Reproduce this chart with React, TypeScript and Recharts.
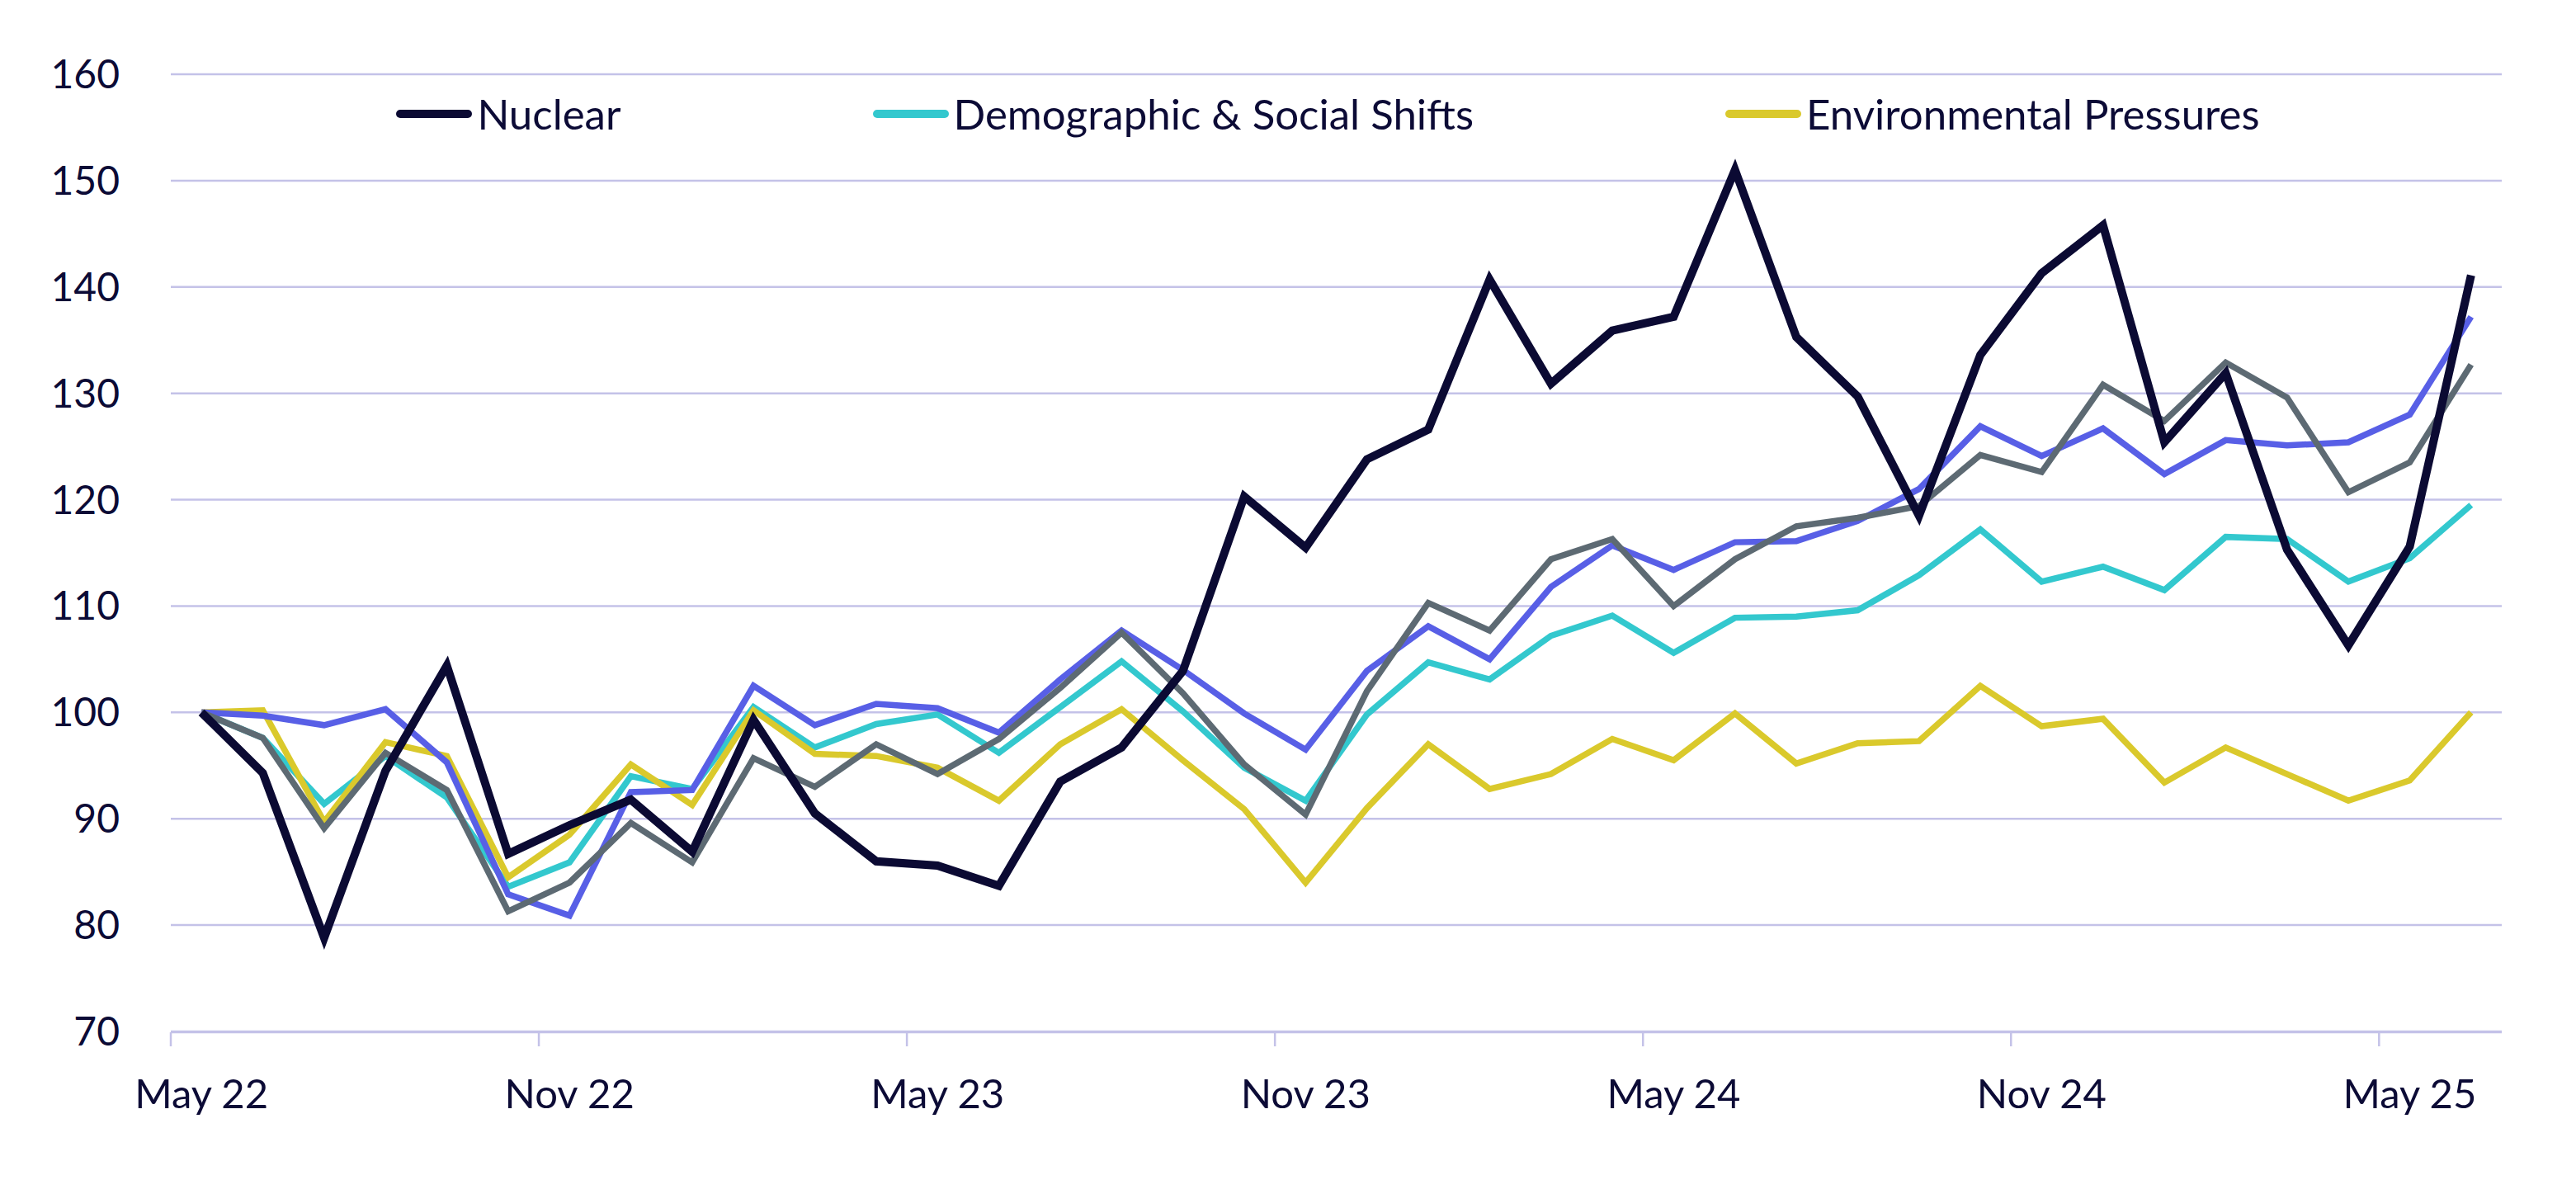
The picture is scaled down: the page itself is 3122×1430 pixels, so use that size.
import { CartesianGrid, Legend, Line, LineChart, XAxis, YAxis } from "recharts";

const months = [
  "May 22", "Jun 22", "Jul 22", "Aug 22", "Sep 22", "Oct 22",
  "Nov 22", "Dec 22", "Jan 23", "Feb 23", "Mar 23", "Apr 23",
  "May 23", "Jun 23", "Jul 23", "Aug 23", "Sep 23", "Oct 23",
  "Nov 23", "Dec 23", "Jan 24", "Feb 24", "Mar 24", "Apr 24",
  "May 24", "Jun 24", "Jul 24", "Aug 24", "Sep 24", "Oct 24",
  "Nov 24", "Dec 24", "Jan 25", "Feb 25", "Mar 25", "Apr 25",
  "May 25", "Jun 25",
];

const nuclear = [
  100, 94.3, 78.8, 94.5, 104.4, 86.7, 89.4, 91.8, 86.9, 99.3, 90.5, 86.0,
  85.6, 83.7, 93.5, 96.7, 103.9, 120.3, 115.5, 123.8, 126.6, 140.7, 130.9, 135.9,
  137.2, 151.0, 135.3, 129.7, 118.5, 133.6, 141.3, 145.8, 125.4, 131.9, 115.3, 106.3,
  115.6, 141.1,
];

const demographic = [
  100, 97.6, 91.4, 95.9, 92.0, 83.6, 85.9, 94.0, 92.8, 100.5, 96.7, 98.9,
  99.8, 96.2, 100.5, 104.8, 100.1, 94.8, 91.7, 99.8, 104.7, 103.1, 107.2, 109.1,
  105.6, 108.9, 109.0, 109.6, 112.9, 117.2, 112.3, 113.7, 111.5, 116.5, 116.3, 112.3,
  114.5, 119.5,
];

const environmental = [
  100, 100.2, 89.7, 97.2, 95.9, 84.5, 88.5, 95.1, 91.3, 100.2, 96.1, 95.9,
  94.8, 91.7, 97.0, 100.3, 95.5, 90.9, 84.0, 91.0, 97.0, 92.8, 94.2, 97.5,
  95.5, 99.9, 95.2, 97.1, 97.3, 102.5, 98.7, 99.4, 93.4, 96.7, 94.2, 91.7,
  93.6, 100.0,
];

// two more themes drawn in the chart but left out of its legend
const themeA = [
  100, 99.7, 98.8, 100.3, 95.3, 82.9, 80.9, 92.5, 92.7, 102.5, 98.8, 100.8,
  100.4, 98.1, 103.1, 107.7, 104.0, 99.9, 96.5, 103.9, 108.1, 105.0, 111.8, 115.7,
  113.4, 116.0, 116.1, 118.0, 121.0, 126.9, 124.1, 126.7, 122.4, 125.6, 125.1, 125.4,
  128.0, 137.2,
];

const themeB = [
  100, 97.6, 89.1, 96.2, 92.7, 81.3, 84.0, 89.6, 85.9, 95.7, 93.0, 97.0,
  94.2, 97.5, 102.3, 107.5, 101.8, 95.1, 90.4, 102.0, 110.3, 107.7, 114.4, 116.3,
  110.0, 114.4, 117.5, 118.3, 119.4, 124.2, 122.6, 130.8, 127.4, 132.9, 129.6, 120.7,
  123.5, 132.7,
];

const yTicks = [70, 80, 90, 100, 110, 120, 130, 140, 150, 160];
const labelTicks = [0, 6, 12, 18, 24, 30, 36];
const boundaryTicks = [-0.5, 5.5, 11.5, 17.5, 23.5, 29.5, 35.5];

const data = months.map((month, i) => ({
  i,
  month,
  nuclear: nuclear[i],
  demographic: demographic[i],
  environmental: environmental[i],
  themeA: themeA[i],
  themeB: themeB[i],
}));

const INK = "#0c0b36";
const GRID = "#c4c2e8";
const FONT = "Lato, sans-serif";

const legendItems = [
  { name: "Nuclear", color: "#0b0a33" },
  { name: "Demographic & Social Shifts", color: "#33c8ce" },
  { name: "Environmental Pressures", color: "#dac92c" },
];

function LegendRow() {
  return (
    <div
      style={{
        display: "flex",
        justifyContent: "center",
        gap: 305,
        fontFamily: FONT,
        fontSize: 51,
        color: INK,
        lineHeight: "60px",
      }}
    >
      {legendItems.map((item) => (
        <div key={item.name} style={{ display: "flex", alignItems: "center" }}>
          <div
            style={{
              width: 92,
              height: 10,
              borderRadius: 5,
              background: item.color,
              marginRight: 6,
            }}
          />
          <span>{item.name}</span>
        </div>
      ))}
    </div>
  );
}

export default function App() {
  return (
    <div
      style={{
        position: "absolute",
        left: 0,
        top: 0,
        width: 3122,
        height: 1430,
        background: "#fff",
      }}
    >
      <LineChart
        width={3122}
        height={1430}
        data={data}
        margin={{ top: 90, right: 90, left: 107, bottom: 178 }}
      >
        <CartesianGrid
          vertical={false}
          stroke={GRID}
          strokeWidth={2.5}
          xAxisId="labels"
        />
        <XAxis
          xAxisId="marks"
          dataKey="i"
          type="number"
          domain={[-0.5, 37.5]}
          ticks={boundaryTicks}
          interval={0}
          height={1}
          tickSize={17}
          tickFormatter={() => ""}
          tick={{ fontSize: 1 }}
          axisLine={{ stroke: GRID, strokeWidth: 2.5 }}
          tickLine={{ stroke: GRID, strokeWidth: 2.5 }}
        />
        <XAxis
          xAxisId="labels"
          dataKey="i"
          type="number"
          domain={[-0.5, 37.5]}
          ticks={labelTicks}
          interval={0}
          height={1}
          axisLine={false}
          tickLine={false}
          tickSize={0}
          tickMargin={58}
          tickFormatter={(v) => months[v]}
          tick={{ fill: INK, fontSize: 49, fontFamily: FONT }}
        />
        <YAxis
          domain={[70, 160]}
          ticks={yTicks}
          width={100}
          axisLine={false}
          tickLine={false}
          tickSize={0}
          tickMargin={62}
          tick={{ fill: INK, fontSize: 48, fontFamily: FONT }}
        />
        <Legend
          layout="horizontal"
          verticalAlign="middle"
          align="center"
          wrapperStyle={{ top: 108, left: 197, width: 2825 }}
          content={() => <LegendRow />}
        />
        <Line
          xAxisId="labels"
          type="linear"
          dataKey="demographic"
          name="Demographic & Social Shifts"
          stroke="#33c8ce"
          strokeWidth={7.5}
          dot={false}
          activeDot={false}
          isAnimationActive={false}
        />
        <Line
          xAxisId="labels"
          type="linear"
          dataKey="environmental"
          name="Environmental Pressures"
          stroke="#dac92c"
          strokeWidth={7.5}
          dot={false}
          activeDot={false}
          isAnimationActive={false}
        />
        <Line
          xAxisId="labels"
          type="linear"
          dataKey="themeA"
          stroke="#585fe6"
          strokeWidth={7.5}
          dot={false}
          activeDot={false}
          isAnimationActive={false}
        />
        <Line
          xAxisId="labels"
          type="linear"
          dataKey="themeB"
          stroke="#5d6a73"
          strokeWidth={7.5}
          dot={false}
          activeDot={false}
          isAnimationActive={false}
        />
        <Line
          xAxisId="labels"
          type="linear"
          dataKey="nuclear"
          name="Nuclear"
          stroke="#0b0a33"
          strokeWidth={10}
          dot={false}
          activeDot={false}
          isAnimationActive={false}
        />
      </LineChart>
    </div>
  );
}
